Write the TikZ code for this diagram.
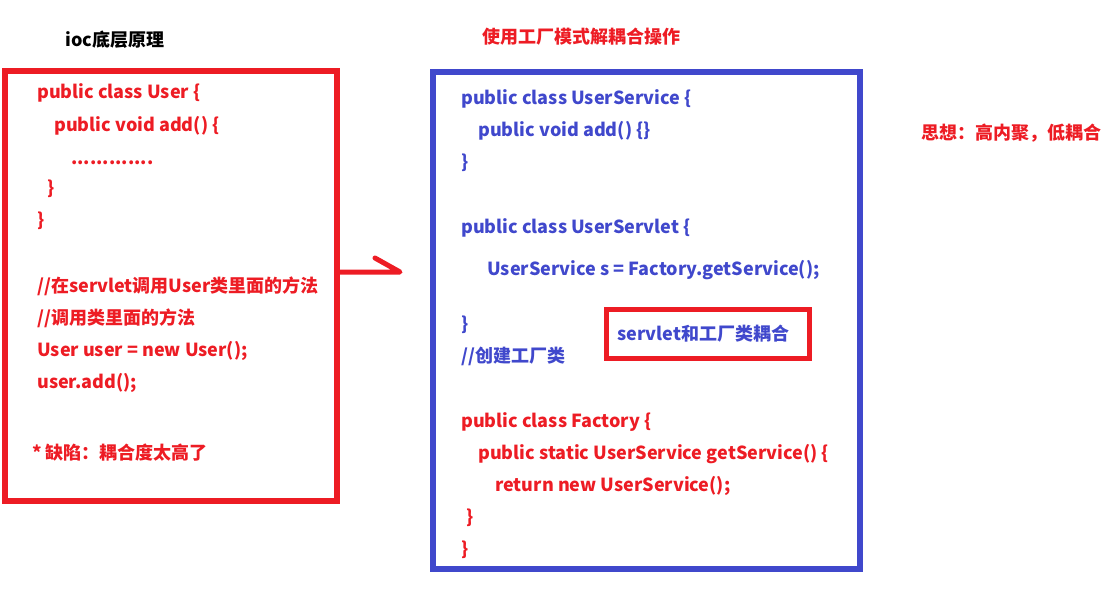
\documentclass[tikz,border=0pt]{standalone}
\usepackage{fontspec}
\setmainfont{Noto Sans CJK SC}
\usetikzlibrary{positioning}
\definecolor{iocred}{RGB}{237,28,36}
\definecolor{iocblue}{RGB}{64,72,204}
\tikzset{
	frame/.style={draw, line width=4.5pt, inner sep=0pt},
	code/.style={anchor=base west, inner sep=0pt, font=\fontsize{13.5}{16}\selectfont\bfseries},
	redcode/.style={code, text=iocred},
	bluecode/.style={code, text=iocblue},
	arrowline/.style={draw=iocred, line width=3.75pt, line cap=round, line join=round}
}

\begin{document}
\begin{tikzpicture}[
    % one unit is one pixel of the sketch, y grows downwards
    x=0.75pt, y=-0.75pt
]
\useasboundingbox (0,0) rectangle (1111,589);

% --- LEFT SIDE: PLAIN COUPLING ---
\node[code, text=black] (ioctitle) at (65,46) {ioc底层原理};
\node[frame, draw=iocred, minimum width=249pt, minimum height=322.5pt] (userbox) at (171,286) {};

\node[redcode] (user1) at (37,98) {public class User \{};
\node[redcode] (user2) at (54,131) {public void add() \{};
\node[redcode] (user3) at (71,164) {.............};
\node[redcode] (user4) at (47,194) {\}};
\node[redcode] (user5) at (37,226) {\}};
\node[redcode] (call1) at (37,292) {//在servlet调用User类里面的方法};
\node[redcode] (call2) at (37,324) {//调用类里面的方法};
\node[redcode] (call3) at (37,356) {User user = new User();};
\node[redcode] (call4) at (37,388) {user.add();};
\node[redcode] (flaw) at (32,459) {* 缺陷：耦合度太高了};

% --- ARROW: half head only ---
\coordinate (tip) at (400,272);
\draw[arrowline] (userbox.east |- tip) -- (tip) -- ++(-25,-14);

% --- RIGHT SIDE: FACTORY PATTERN ---
\node[redcode] (factorytitle) at (482,43) {使用工厂模式解耦合操作};
\node[frame, draw=iocblue, minimum width=320.25pt, minimum height=372.75pt] (factorybox) at (646.5,320.5) {};

\node[bluecode] (service1) at (461,104) {public class UserService \{};
\node[bluecode] (service2) at (478,136) {public void add() \{\}};
\node[bluecode] (service3) at (461,168) {\}};
\node[bluecode] (servlet1) at (461,233) {public class UserServlet \{};
\node[bluecode] (servlet2) at (487,275) {UserService s = Factory.getService();};
\node[bluecode] (servlet3) at (461,330) {\}};
\node[bluecode] (create) at (461,362) {//创建工厂类};

% coupling note
\node[frame, draw=iocred, line width=3.75pt, minimum width=152.25pt, minimum height=36.75pt] (couplebox) at (708,334) {};
\node[bluecode] (couple) at (617,340) {servlet和工厂类耦合};

\node[redcode] (factory1) at (461,427) {public class Factory \{};
\node[redcode] (factory2) at (478,459) {public static UserService getService() \{};
\node[redcode] (factory3) at (495,491) {return new UserService();};
\node[redcode] (factory4) at (466,523) {\}};
\node[redcode] (factory5) at (461,555) {\}};

% --- FAR RIGHT: IDEA ---
\node[redcode] (idea) at (921,139) {思想：高内聚，低耦合};

\end{tikzpicture}
\end{document}
